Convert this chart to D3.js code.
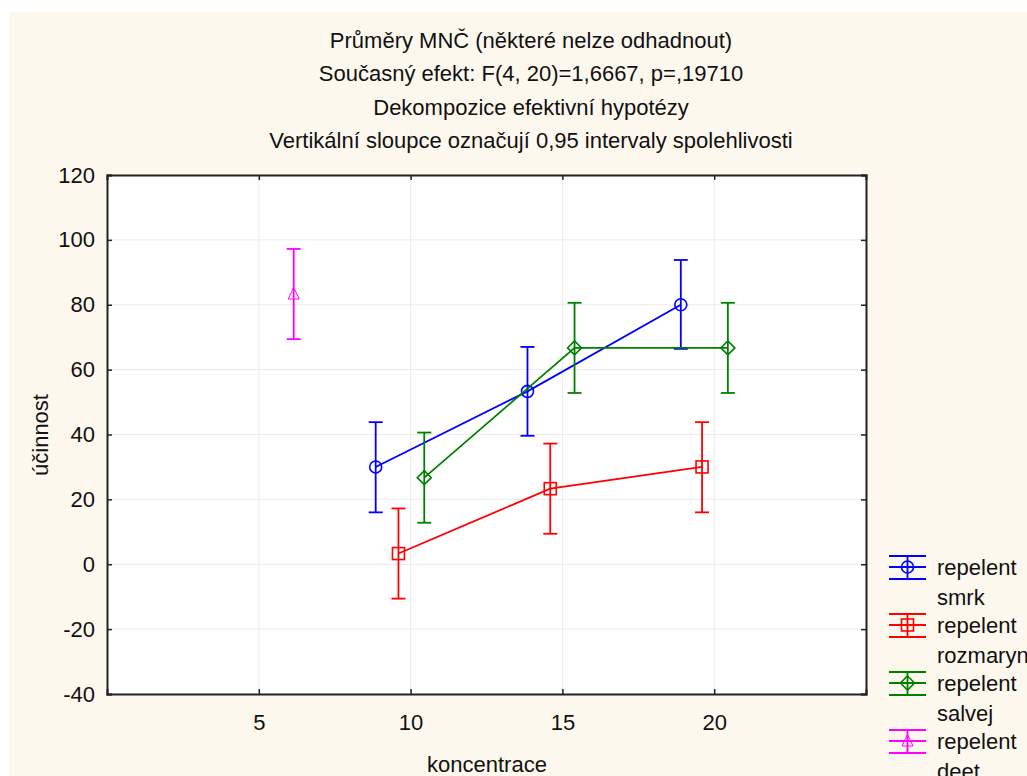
<!DOCTYPE html>
<html><head><meta charset="utf-8">
<script src="https://cdn.jsdelivr.net/npm/d3@7"></script>
<style>
html,body{margin:0;padding:0;background:#fff;}
svg{display:block;font-family:"Liberation Sans",Arial,sans-serif;}
</style></head>
<body>
<svg id="c" width="1027" height="776"></svg>
<script>
// ---- data ----
const titleLines = ["Průměry MNČ (některé nelze odhadnout)",
  "Současný efekt: F(4, 20)=1,6667, p=,19710",
  "Dekompozice efektivní hypotézy",
  "Vertikální sloupce označují 0,95 intervaly spolehlivosti"];
const seriesNames = ["repelent smrk","repelent rozmaryn","repelent salvej","repelent deet"];
const seriesColors = ["#0000ff","#ff0000","#008000","#ff00ff"];
const seriesSymbols = ["circle","square","diamond","triangle"];
// x positions (concentration, with grouping offset as drawn)
const smrkX = [8.85, 13.85, 18.9];
const smrkMean = [30, 53.3, 80];
const smrkLow = [16, 39.6, 66.4];
const smrkHigh = [43.8, 67, 93.8];
const rozmarynX = [9.6, 14.6, 19.6];
const rozmarynMean = [3.3, 23.3, 30];
const rozmarynLow = [-10.6, 9.4, 16];
const rozmarynHigh = [17.2, 37.2, 43.8];
const salvejX = [10.45, 15.4, 20.45];
const salvejMean = [26.7, 66.7, 66.7];
const salvejLow = [12.8, 52.8, 52.8];
const salvejHigh = [40.6, 80.6, 80.6];
const deetX = [6.15];
const deetMean = [83.3];
const deetLow = [69.4];
const deetHigh = [97.2];
const xTicks = [5, 10, 15, 20];
const yTicks = [-40, -20, 0, 20, 40, 60, 80, 100, 120];
const xLabel = "koncentrace";
const yLabel = "účinnost";

const series = [
  {x: smrkX, m: smrkMean, lo: smrkLow, hi: smrkHigh},
  {x: rozmarynX, m: rozmarynMean, lo: rozmarynLow, hi: rozmarynHigh},
  {x: salvejX, m: salvejMean, lo: salvejLow, hi: salvejHigh},
  {x: deetX, m: deetMean, lo: deetLow, hi: deetHigh}
].map((s, i) => ({...s, name: seriesNames[i], color: seriesColors[i], sym: seriesSymbols[i],
   pts: s.x.map((xv, j) => ({x: xv, m: s.m[j], lo: s.lo[j], hi: s.hi[j]}))}));

// ---- layout ----
const FS = 22;
const svg = d3.select("#c");
const L = 107, R = 866, T = 175, B = 694;
const x = d3.scaleLinear().domain([0, 25]).range([L, R]);
const y = d3.scaleLinear().domain([-40, 120]).range([B, T]);

svg.append("rect").attr("x", 9).attr("y", 12).attr("width", 1018).attr("height", 764).attr("fill", "#fdf8ee");
svg.append("rect").attr("x", L).attr("y", T).attr("width", R - L).attr("height", B - T).attr("fill", "#fff");

// title
svg.append("g").selectAll("text").data(titleLines).join("text")
  .attr("x", 531).attr("y", (d, i) => 48 + i * 33.3)
  .attr("text-anchor", "middle").attr("font-size", FS).attr("fill", "#111").text(d => d);

// grid
const g = svg.append("g");
g.selectAll(".gx").data(xTicks).join("line")
  .attr("x1", d => x(d)).attr("x2", d => x(d)).attr("y1", T).attr("y2", B)
  .attr("stroke", "#ebebeb").attr("stroke-width", 1);
g.selectAll(".gy").data(yTicks.filter(d => d > -40 && d < 120)).join("line")
  .attr("x1", L).attr("x2", R).attr("y1", d => y(d)).attr("y2", d => y(d))
  .attr("stroke", "#ebebeb").attr("stroke-width", 1);

// axes
const fmt = d => String(d);
const axB = svg.append("g").attr("transform", `translate(0,${B})`)
  .call(d3.axisBottom(x).tickValues(xTicks).tickSize(-5).tickPadding(20).tickFormat(fmt));
const axL = svg.append("g").attr("transform", `translate(${L},0)`)
  .call(d3.axisLeft(y).tickValues(yTicks).tickSize(-5).tickPadding(12).tickFormat(fmt));
const axT = svg.append("g").attr("transform", `translate(0,${T})`)
  .call(d3.axisTop(x).tickValues(xTicks).tickSize(-5).tickFormat(""));
const axR = svg.append("g").attr("transform", `translate(${R},0)`)
  .call(d3.axisRight(y).tickValues(yTicks).tickSize(-5).tickFormat(""));
[axB, axL, axT, axR].forEach(a => {
  a.select(".domain").attr("stroke", "#222").attr("stroke-width", 2);
  a.selectAll(".tick line").attr("stroke", "#222").attr("stroke-width", 1.5);
  a.selectAll("text").attr("font-size", FS).attr("fill", "#111")
    .attr("font-family", "Liberation Sans, Arial, sans-serif");
});

svg.append("text").attr("x", 487).attr("y", 772).attr("text-anchor", "middle")
  .attr("font-size", FS).attr("fill", "#111").text(xLabel);
svg.append("text").attr("transform", "translate(48,435) rotate(-90)").attr("text-anchor", "middle")
  .attr("font-size", FS).attr("fill", "#111").text(yLabel);

// symbol drawer
function drawSym(sel, type, cx, cy, color) {
  let e;
  if (type === "circle") e = sel.append("circle").attr("cx", cx).attr("cy", cy).attr("r", 6);
  else if (type === "square") e = sel.append("rect").attr("x", cx - 6).attr("y", cy - 6).attr("width", 12).attr("height", 12);
  else if (type === "diamond") e = sel.append("path").attr("d", `M${cx},${cy-7}L${cx+7},${cy}L${cx},${cy+7}L${cx-7},${cy}Z`);
  else e = sel.append("path").attr("d", `M${cx},${cy-6.5}L${cx+5.5},${cy+5}L${cx-5.5},${cy+5}Z`);
  e.attr("stroke", color).attr("fill", "none").attr("stroke-width", type === "triangle" ? 1 : 1.6);
}

const line = d3.line().x(d => x(d.x)).y(d => y(d.m));
const plot = svg.append("g");
series.forEach(s => {
  const gs = plot.append("g");
  if (s.pts.length > 1)
    gs.append("path").attr("d", line(s.pts)).attr("fill", "none").attr("stroke", s.color).attr("stroke-width", 1.8);
  s.pts.forEach(p => {
    const cx = x(p.x);
    gs.append("line").attr("x1", cx).attr("x2", cx).attr("y1", y(p.lo)).attr("y2", y(p.hi)).attr("stroke", s.color).attr("stroke-width", 1.8);
    [p.lo, p.hi].forEach(v => gs.append("line").attr("x1", cx - 7).attr("x2", cx + 7).attr("y1", y(v)).attr("y2", y(v)).attr("stroke", s.color).attr("stroke-width", 1.8));
    drawSym(gs, s.sym, cx, y(p.m), s.color);
  });
});

// legend
const leg = svg.append("g");
series.forEach((s, i) => {
  const cy = 567 + i * 58, x0 = 889, x1 = 926, xc = 907.5;
  const gl = leg.append("g");
  [-11, 0, 12].forEach(dy => gl.append("line").attr("x1", x0).attr("x2", x1).attr("y1", cy + dy).attr("y2", cy + dy).attr("stroke", s.color).attr("stroke-width", 1.8));
  gl.append("line").attr("x1", xc).attr("x2", xc).attr("y1", cy - 11).attr("y2", cy + 12).attr("stroke", s.color).attr("stroke-width", 1.8);
  drawSym(gl, s.sym, xc, cy, s.color);
  const words = s.name.split(" ");
  words.forEach((w, k) => gl.append("text").attr("x", 937).attr("y", cy + 8 + k * 30)
    .attr("font-size", FS).attr("fill", "#111").text(w));
});
</script>
</body></html>
